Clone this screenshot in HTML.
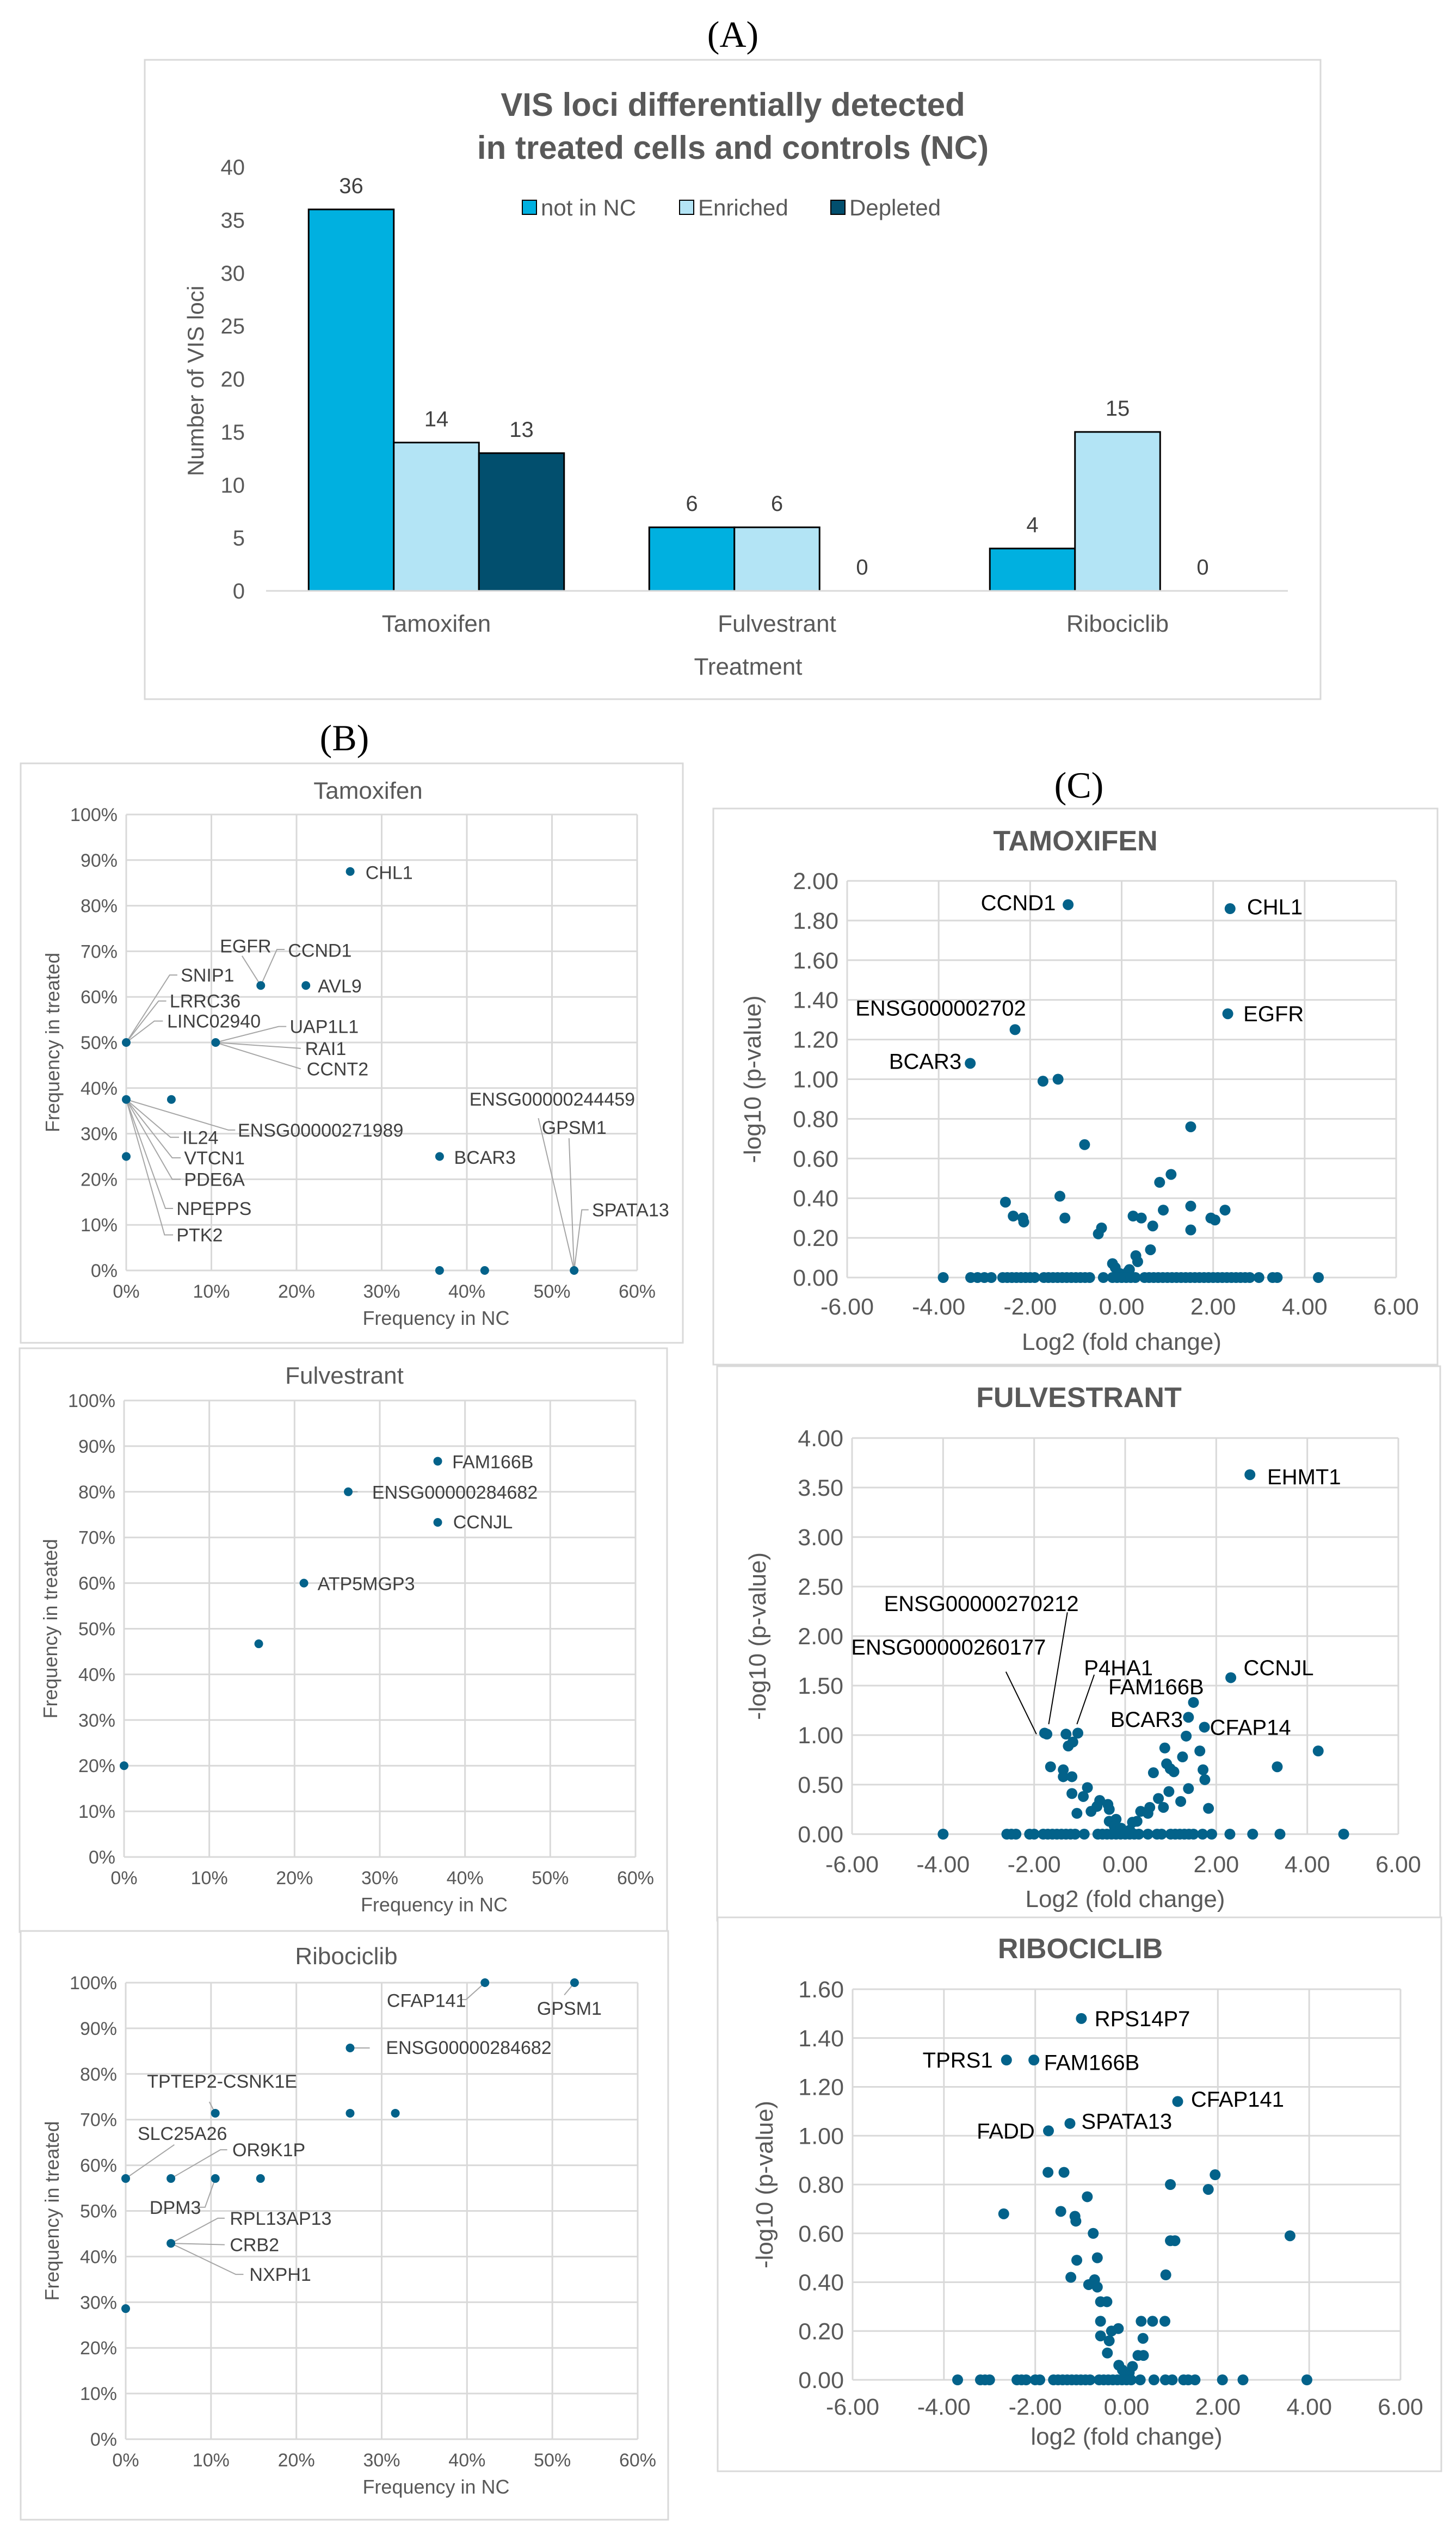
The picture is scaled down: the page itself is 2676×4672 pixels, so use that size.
<!DOCTYPE html>
<html><head><meta charset="utf-8"><title>VIS loci figure</title>
<style>html,body{margin:0;padding:0;background:#fff;width:2676px;height:4672px;overflow:hidden}svg{display:block}</style>
</head><body>
<svg id="fig" xmlns="http://www.w3.org/2000/svg" width="2676" height="4672" viewBox="0 0 2676 4672" font-family="Liberation Sans, Arial, sans-serif"></svg>
<script>
// ===== Panel A data =====
const barCategories = ['Tamoxifen', 'Fulvestrant', 'Ribociclib'];
const barSeriesNames = ['not in NC', 'Enriched', 'Depleted'];
const notInNC = [36, 6, 4];
const enriched = [14, 6, 15];
const depleted = [13, 0, 0];
const barYTicks = [0, 5, 10, 15, 20, 25, 30, 35, 40];

// ===== Panel B data (percent) =====
const tamB_x = [26.3, 15.8, 21.1, 0, 10.5, 0, 5.3, 0, 36.8, 36.8, 42.1, 52.6];
const tamB_y = [87.5, 62.5, 62.5, 50, 50, 37.5, 37.5, 25, 25, 0, 0, 0];
const fulB_x = [36.8, 26.3, 36.8, 21.1, 15.8, 0];
const fulB_y = [86.7, 80, 73.3, 60, 46.7, 20];
const ribB_x = [42.1, 52.6, 26.3, 10.5, 26.3, 31.6, 0, 5.3, 10.5, 15.8, 5.3, 0];
const ribB_y = [100, 100, 85.7, 71.4, 71.4, 71.4, 57.1, 57.1, 57.1, 57.1, 42.9, 28.6];
const pctXTicks = [0, 10, 20, 30, 40, 50, 60];
const pctYTicks = [0, 10, 20, 30, 40, 50, 60, 70, 80, 90, 100];

// ===== Panel C data =====
const tamC_x = [-1.17, 2.37, 2.32, -2.33, -3.31, -1.72, -1.39, 1.51, -0.81, 1.08, 0.83, -2.54, -1.35, 0.91, 1.51, 2.26, -2.37, -2.16, -2.14, -1.24, 0.25, 0.43, 0.68, 1.95, 2.04, 1.51, -0.44, -0.51, 0.63, 0.31, 0.35, -0.20, -0.14, 0.17, 0.14, -0.04,
 -3.9, -3.3, -3.15, -3.0, -2.85, -2.6, -2.5, -2.4, -2.3, -2.2, -2.1, -2.0, -1.9, -1.7, -1.6, -1.5, -1.4, -1.3, -1.2, -1.1, -1.0, -0.9, -0.8, -0.7, -0.4, -0.2, -0.1, 0, 0.1, 0.2, 0.3, 0.5, 0.6, 0.7, 0.8, 0.9, 1.0, 1.1, 1.2, 1.3, 1.4, 1.5, 1.6, 1.7, 1.8, 1.9, 2.0, 2.1, 2.2, 2.3, 2.4, 2.5, 2.6, 2.7, 2.8, 3.0, 3.3, 3.4, 4.3];
const tamC_y = [1.88, 1.86, 1.33, 1.25, 1.08, 0.99, 1.00, 0.76, 0.67, 0.52, 0.48, 0.38, 0.41, 0.34, 0.36, 0.34, 0.31, 0.30, 0.28, 0.30, 0.31, 0.30, 0.26, 0.30, 0.29, 0.24, 0.25, 0.22, 0.14, 0.11, 0.08, 0.07, 0.05, 0.04, 0.03, 0.02,
 0,0,0,0,0,0,0,0,0,0,0,0,0,0,0,0,0,0,0,0,0,0,0,0,0,0,0,0,0,0,0,0,0,0,0,0,0,0,0,0,0,0,0,0,0,0,0,0,0,0,0,0,0,0,0,0,0,0,0];
const fulC_x = [2.74, 2.32, 1.50, 1.39, 1.74, 1.34, -1.77, -1.72, -1.30, -1.04, -1.25, -1.15, -1.64, -1.36, -1.36, -1.17, -1.17, -0.83, -0.92, -1.06, -0.75, -0.56, -0.62, -0.38, -0.35, -0.35, -0.20, -0.24, -0.09, 0.10, 0.16, 0.26, 0.34, 0.50, 0.54, 0.84, 0.73, 0.96, 1.22, 1.39, 0.62, 0.91, 0.99, 1.07, 0.87, 1.26, 1.64, 1.71, 1.75, 1.83, 3.34, 4.24,
 -4.0, -2.6, -2.5, -2.4, -2.1, -2.0, -1.8, -1.7, -1.6, -1.5, -1.4, -1.3, -1.2, -1.1, -0.9, -0.6, -0.5, -0.4, -0.3, -0.2, -0.1, 0, 0.1, 0.2, 0.3, 0.5, 0.7, 0.8, 1.0, 1.1, 1.2, 1.3, 1.4, 1.5, 1.7, 1.9, 2.3, 2.8, 3.4, 4.8];
const fulC_y = [3.63, 1.58, 1.33, 1.18, 1.08, 0.99, 1.02, 1.01, 1.01, 1.02, 0.89, 0.93, 0.68, 0.65, 0.58, 0.58, 0.41, 0.47, 0.38, 0.21, 0.23, 0.34, 0.28, 0.30, 0.25, 0.13, 0.15, 0.08, 0.06, 0.04, 0.12, 0.13, 0.23, 0.21, 0.27, 0.27, 0.36, 0.43, 0.33, 0.46, 0.62, 0.71, 0.66, 0.63, 0.87, 0.78, 0.84, 0.65, 0.55, 0.26, 0.68, 0.84,
 0,0,0,0,0,0,0,0,0,0,0,0,0,0,0,0,0,0,0,0,0,0,0,0,0,0,0,0,0,0,0,0,0,0,0,0,0,0,0,0];
const ribC_x = [-0.99, -2.63, -2.03, 1.12, -1.24, -1.71, -1.72, -1.37, 1.94, 0.96, 1.79, -0.86, -2.69, -1.44, -1.13, -1.11, -0.73, 0.96, 1.06, 3.58, -1.09, -0.64, -1.22, -0.70, -0.83, -0.64, 0.86, -0.57, -0.43, -0.57, -0.18, -0.33, 0.32, 0.57, 0.84, -0.57, 0.36, -0.38, -0.42, 0.25, 0.37, -0.17, 0.13, -0.09, 0.06,
 -3.7, -3.2, -3.1, -3.0, -2.4, -2.3, -2.2, -2.0, -1.9, -1.6, -1.5, -1.4, -1.3, -1.2, -1.1, -1.0, -0.9, -0.8, -0.6, -0.5, -0.4, -0.3, -0.2, -0.1, 0, 0.1, 0.3, 0.6, 0.85, 1.0, 1.25, 1.35, 1.5, 2.1, 2.55, 3.95];
const ribC_y = [1.48, 1.31, 1.31, 1.14, 1.05, 1.02, 0.85, 0.85, 0.84, 0.80, 0.78, 0.75, 0.68, 0.69, 0.67, 0.65, 0.60, 0.57, 0.57, 0.59, 0.49, 0.50, 0.42, 0.41, 0.39, 0.38, 0.43, 0.32, 0.32, 0.24, 0.21, 0.20, 0.24, 0.24, 0.24, 0.18, 0.17, 0.16, 0.11, 0.10, 0.10, 0.06, 0.055, 0.04, 0.03,
 0,0,0,0,0,0,0,0,0,0,0,0,0,0,0,0,0,0,0,0,0,0,0,0,0,0,0,0,0,0,0,0,0,0,0,0];
const volXTicks = [-6, -4, -2, 0, 2, 4, 6];
const tamCYTicks = [0, 0.2, 0.4, 0.6, 0.8, 1.0, 1.2, 1.4, 1.6, 1.8, 2.0];
const fulCYTicks = [0, 0.5, 1.0, 1.5, 2.0, 2.5, 3.0, 3.5, 4.0];
const ribCYTicks = [0, 0.2, 0.4, 0.6, 0.8, 1.0, 1.2, 1.4, 1.6];

const NS = 'http://www.w3.org/2000/svg';
const svg = document.getElementById('fig');
function add(parent, tag, name, attrs, text) {
  const el = document.createElementNS(NS, tag);
  for (const k in attrs) el.setAttribute(k, attrs[k]);
  
  
  if (text !== undefined) el.textContent = text;
  parent.appendChild(el);
  return el;
}
const GRID = '#d9d9d9', TXT = '#595959', DOT = '#03628a';

// Panel letters
add(svg, 'text', 'panel-label-a', {x: 1347, y: 86, 'text-anchor': 'middle', 'font-family': 'Liberation Serif, serif', 'font-size': 68, fill: '#000'}, '(A)');
add(svg, 'text', 'panel-label-b', {x: 633, y: 1379, 'text-anchor': 'middle', 'font-family': 'Liberation Serif, serif', 'font-size': 68, fill: '#000'}, '(B)');
add(svg, 'text', 'panel-label-c', {x: 1983, y: 1466, 'text-anchor': 'middle', 'font-family': 'Liberation Serif, serif', 'font-size': 68, fill: '#000'}, '(C)');

// ===== Panel A =====
(function () {
  const g = add(svg, 'g', 'bar-chart', {});
  add(g, 'rect', 'bar-chart-frame', {x: 266, y: 110, width: 2161, height: 1175, fill: '#fff', stroke: GRID, 'stroke-width': 3});
  const L = 489, R = 2367, B = 1086, T = 307, yMax = 40;
  const ys = v => B - v / yMax * (B - T);
  const cw = (R - L) / barCategories.length, bw = cw / 4;
  add(g, 'text', 'chart-title-line-1', {x: 1347, y: 213, 'text-anchor': 'middle', 'font-size': 60, 'font-weight': 'bold', fill: TXT}, 'VIS loci differentially detected');
  add(g, 'text', 'chart-title-line-2', {x: 1347, y: 292, 'text-anchor': 'middle', 'font-size': 60, 'font-weight': 'bold', fill: TXT}, 'in treated cells and controls (NC)');
  barYTicks.forEach(t => {
    add(g, 'text', 'y-tick-label', {x: 450, y: ys(t) + 14, 'text-anchor': 'end', 'font-size': 40, fill: TXT}, String(t));
  });
  add(g, 'text', 'y-axis-title', {x: 0, y: 0, transform: 'translate(374,700) rotate(-90)', 'text-anchor': 'middle', 'font-size': 42, fill: TXT}, 'Number of VIS loci');
  const series = [notInNC, enriched, depleted];
  const colors = ['#00b0e0', '#b3e4f5', '#024f6e'];
  series.forEach((vals, s) => {
    vals.forEach((v, i) => {
      const x = L + i * cw + cw / 8 + s * bw;
      if (v > 0) {
        add(g, 'rect', 'bar-' + barSeriesNames[s].replace(/ /g, '-').toLowerCase() + '-' + barCategories[i].toLowerCase(), {x: x, y: ys(v), width: bw, height: B - ys(v), fill: colors[s], stroke: '#000', 'stroke-width': 3});
      }
      add(g, 'text', 'bar-value-label', {x: x + bw / 2, y: ys(v) - 30, 'text-anchor': 'middle', 'font-size': 40, fill: '#404040'}, String(v));
    });
  });
  add(g, 'line', 'x-axis-line', {x1: L, y1: B, x2: R, y2: B, stroke: GRID, 'stroke-width': 3});
  barCategories.forEach((c, i) => {
    add(g, 'text', 'x-category-label', {x: L + (i + 0.5) * cw, y: 1161, 'text-anchor': 'middle', 'font-size': 44, fill: TXT}, c);
  });
  add(g, 'text', 'x-axis-title', {x: 1375, y: 1240, 'text-anchor': 'middle', 'font-size': 44, fill: TXT}, 'Treatment');
  const lx = [960, 1249, 1527];
  barSeriesNames.forEach((n, s) => {
    const lg = add(g, 'g', 'legend-entry', {});
    add(lg, 'rect', 'legend-swatch', {x: lx[s], y: 368, width: 26, height: 26, fill: colors[s], stroke: '#000', 'stroke-width': 2});
    add(lg, 'text', 'legend-label', {x: lx[s] + 34, y: 396, 'font-size': 42, fill: TXT}, n);
  });
})();

// ===== Panel B scatters =====
function scatterB(cfg, xs, ys, labels) {
  const g = add(svg, 'g', cfg.name, {});
  add(g, 'rect', cfg.name + '-frame', {x: cfg.box[0], y: cfg.box[1], width: cfg.box[2], height: cfg.box[3], fill: '#fff', stroke: GRID, 'stroke-width': 3});
  const [L, R, T, B] = cfg.plot;
  const sx = v => L + v / 60 * (R - L);
  const sy = v => B - v / 100 * (B - T);
  add(g, 'text', 'chart-title', {x: (L + R) / 2 - 65 + cfg.titleDx, y: cfg.titleY + 15, 'text-anchor': 'middle', 'font-size': 44, fill: TXT}, cfg.title);
  pctYTicks.forEach(t => {
    add(g, 'line', 'y-gridline', {x1: L, y1: sy(t), x2: R, y2: sy(t), stroke: GRID, 'stroke-width': 3});
    add(g, 'text', 'y-tick-label', {x: L - 16, y: sy(t) + 12, 'text-anchor': 'end', 'font-size': 34, fill: TXT}, t + '%');
  });
  pctXTicks.forEach(t => {
    add(g, 'line', 'x-gridline', {x1: sx(t), y1: T, x2: sx(t), y2: B, stroke: GRID, 'stroke-width': 3});
    add(g, 'text', 'x-tick-label', {x: sx(t), y: B + 50, 'text-anchor': 'middle', 'font-size': 34, fill: TXT}, t + '%');
  });
  add(g, 'text', 'x-axis-title', {x: (L + R) / 2 + 100, y: B + 100, 'text-anchor': 'middle', 'font-size': 36, fill: TXT}, 'Frequency in NC');
  add(g, 'text', 'y-axis-title', {x: 0, y: 0, transform: 'translate(' + (L - 123) + ',' + ((T + B) / 2) + ') rotate(-90)', 'text-anchor': 'middle', 'font-size': 36, fill: TXT}, 'Frequency in treated');
  labels.forEach(lb => {
    if (lb.lead) {
      const pts = lb.lead.map(p => sx(p[0]) + ',' + sy(p[1])).join(' ');
      add(g, 'polyline', 'label-leader-line', {points: pts, fill: 'none', stroke: '#a6a6a6', 'stroke-width': 2});
    }
    add(g, 'text', 'point-label', {x: sx(lb.x), y: sy(lb.y) + 12, 'font-size': 34, fill: '#404040'}, lb.t);
  });
  xs.forEach((v, i) => {
    add(g, 'circle', 'data-point', {cx: sx(v), cy: sy(ys[i]), r: 8, fill: DOT});
  });
}
scatterB({name: 'tamoxifen-frequency-scatter', title: 'Tamoxifen', box: [38, 1403, 1217, 1065], plot: [232, 1171, 1497, 2335], titleY: 1453, titleDx: 40}, tamB_x, tamB_y, [
  {t: 'CHL1', x: 28.1, y: 87.3},
  {t: 'EGFR', x: 11.0, y: 71.2, lead: [[15.8, 62.5], [13.6, 69.0]]},
  {t: 'CCND1', x: 19.0, y: 70.2, lead: [[15.8, 62.5], [17.7, 70.4], [18.6, 70.4]]},
  {t: 'AVL9', x: 22.5, y: 62.4},
  {t: 'SNIP1', x: 6.4, y: 64.8, lead: [[0, 50], [5.1, 64.8], [6.0, 64.8]]},
  {t: 'LRRC36', x: 5.1, y: 59.1, lead: [[0, 50], [3.8, 59.1], [4.7, 59.1]]},
  {t: 'LINC02940', x: 4.8, y: 54.7, lead: [[0, 50], [3.3, 54.7], [4.3, 54.7]]},
  {t: 'UAP1L1', x: 19.2, y: 53.5, lead: [[10.5, 50], [17.9, 53.5], [18.8, 53.5]]},
  {t: 'RAI1', x: 21.0, y: 48.7, lead: [[10.5, 50], [20.5, 48.7]]},
  {t: 'CCNT2', x: 21.2, y: 44.2, lead: [[10.5, 50], [20.5, 44.2]]},
  {t: 'ENSG00000271989', x: 13.1, y: 30.8, lead: [[0, 37.5], [12.0, 30.8], [12.8, 30.8]]},
  {t: 'IL24', x: 6.6, y: 29.2, lead: [[0, 37.5], [5.2, 29.2], [6.2, 29.2]]},
  {t: 'VTCN1', x: 6.8, y: 24.7, lead: [[0, 37.5], [5.4, 24.7], [6.4, 24.7]]},
  {t: 'PDE6A', x: 6.8, y: 20.0, lead: [[0, 37.5], [5.4, 20.0], [6.4, 20.0]]},
  {t: 'NPEPPS', x: 5.9, y: 13.6, lead: [[0, 37.5], [4.6, 13.6], [5.5, 13.6]]},
  {t: 'PTK2', x: 5.9, y: 7.8, lead: [[0, 37.5], [4.5, 7.8], [5.5, 7.8]]},
  {t: 'BCAR3', x: 38.5, y: 24.8},
  {t: 'ENSG00000244459', x: 40.3, y: 37.6, lead: [[48.4, 33.4], [52.6, 0]]},
  {t: 'GPSM1', x: 48.8, y: 31.4, lead: [[52.0, 29.0], [52.6, 0]]},
  {t: 'SPATA13', x: 54.7, y: 13.3, lead: [[52.6, 0], [53.5, 13.3], [54.3, 13.3]]}
]);
scatterB({name: 'fulvestrant-frequency-scatter', title: 'Fulvestrant', box: [36, 2478, 1190, 1073], plot: [228, 1168, 2574, 3413], titleY: 2528, titleDx: 0}, fulB_x, fulB_y, [
  {t: 'FAM166B', x: 38.5, y: 86.6},
  {t: 'ENSG00000284682', x: 29.1, y: 79.9, lead: [[26.3, 80], [27.4, 80]]},
  {t: 'CCNJL', x: 38.6, y: 73.4},
  {t: 'ATP5MGP3', x: 22.7, y: 59.9}
]);
scatterB({name: 'ribociclib-frequency-scatter', title: 'Ribociclib', box: [38, 3549, 1190, 1082], plot: [231, 1172, 3644, 4483], titleY: 3595, titleDx: 0}, ribB_x, ribB_y, [
  {t: 'CFAP141', x: 30.6, y: 96.1, lead: [[42.1, 100], [39.9, 96.3], [39.1, 96.3]]},
  {t: 'GPSM1', x: 48.2, y: 94.4, lead: [[52.6, 100], [51.4, 97.3]]},
  {t: 'ENSG00000284682', x: 30.5, y: 85.8, lead: [[26.3, 85.7], [28.6, 85.7]]},
  {t: 'TPTEP2-CSNK1E', x: 2.5, y: 78.4, lead: [[10.5, 71.4], [9.8, 73.9]]},
  {t: 'SLC25A26', x: 1.4, y: 67.0, lead: [[0, 57.1], [5.7, 64.5]]},
  {t: 'OR9K1P', x: 12.5, y: 63.4, lead: [[5.3, 57.1], [11.1, 63.4], [11.9, 63.4]]},
  {t: 'DPM3', x: 2.8, y: 50.8, lead: [[10.5, 57.1], [9.3, 50.8], [8.5, 50.8]]},
  {t: 'RPL13AP13', x: 12.2, y: 48.4, lead: [[5.3, 42.9], [10.8, 48.4], [11.6, 48.4]]},
  {t: 'CRB2', x: 12.2, y: 42.6, lead: [[5.3, 42.9], [11.6, 42.6]]},
  {t: 'NXPH1', x: 14.5, y: 36.1, lead: [[5.3, 42.9], [12.9, 36.1], [13.8, 36.1]]}
]);

// ===== Panel C volcanos =====
function volcano(cfg, xs, ys, yTicks, labels) {
  const g = add(svg, 'g', cfg.name, {});
  add(g, 'rect', cfg.name + '-frame', {x: cfg.box[0], y: cfg.box[1], width: cfg.box[2], height: cfg.box[3], fill: '#fff', stroke: GRID, 'stroke-width': 3});
  const [L, R, T, B] = cfg.plot;
  const yMax = yTicks[yTicks.length - 1];
  const sx = v => L + (v + 6) / 12 * (R - L);
  const sy = v => B - v / yMax * (B - T);
  add(g, 'text', 'chart-title', {x: (L + R) / 2 - 85, y: cfg.titleY + 18, 'text-anchor': 'middle', 'font-size': 52, 'font-weight': 'bold', fill: TXT}, cfg.title);
  yTicks.forEach(t => {
    add(g, 'line', 'y-gridline', {x1: L, y1: sy(t), x2: R, y2: sy(t), stroke: GRID, 'stroke-width': 3});
    add(g, 'text', 'y-tick-label', {x: L - 16, y: sy(t) + 15, 'text-anchor': 'end', 'font-size': 43, fill: TXT}, t.toFixed(2));
  });
  volXTicks.forEach(t => {
    add(g, 'line', 'x-gridline', {x1: sx(t), y1: T, x2: sx(t), y2: B, stroke: GRID, 'stroke-width': 3});
    add(g, 'text', 'x-tick-label', {x: sx(t), y: cfg.xTickY + 15, 'text-anchor': 'middle', 'font-size': 43, fill: TXT}, t.toFixed(2));
  });
  add(g, 'text', 'x-axis-title', {x: (L + R) / 2, y: cfg.xTitleY + 15, 'text-anchor': 'middle', 'font-size': 44, fill: TXT}, cfg.xTitle);
  add(g, 'text', 'y-axis-title', {x: 0, y: 0, transform: 'translate(' + (cfg.yTitleX + 14) + ',' + ((T + B) / 2) + ') rotate(-90)', 'text-anchor': 'middle', 'font-size': 44, fill: TXT}, '-log10 (p-value)');
  labels.forEach(lb => {
    if (lb.lead) {
      add(g, 'line', 'label-leader-line', {x1: sx(lb.lead[0]), y1: sy(lb.lead[1]), x2: sx(lb.lead[2]), y2: sy(lb.lead[3]), stroke: '#000', 'stroke-width': 2});
    }
    add(g, 'text', 'point-label', {x: sx(lb.x), y: sy(lb.y) + 14, 'text-anchor': lb.end ? 'end' : 'start', 'font-size': 40, fill: '#000'}, lb.t);
  });
  xs.forEach((v, i) => {
    add(g, 'circle', 'data-point', {cx: sx(v), cy: sy(ys[i]), r: 10, fill: DOT});
  });
}
volcano({name: 'tamoxifen-volcano', title: 'TAMOXIFEN', box: [1311, 1486, 1331, 1022], plot: [1557, 2566, 1619, 2348], titleY: 1545, xTickY: 2401, xTitleY: 2466, yTitleX: 1384, xTitle: 'Log2 (fold change)'}, tamC_x, tamC_y, tamCYTicks, [
  {t: 'CCND1', x: -1.44, y: 1.89, end: true},
  {t: 'CHL1', x: 2.74, y: 1.87},
  {t: 'EGFR', x: 2.66, y: 1.33},
  {t: 'ENSG000002702', x: -2.09, y: 1.36, end: true},
  {t: 'BCAR3', x: -3.50, y: 1.09, end: true}
]);
volcano({name: 'fulvestrant-volcano', title: 'FULVESTRANT', box: [1318, 2511, 1329, 1019], plot: [1566, 2570, 2643, 3371], titleY: 2568, xTickY: 3426, xTitleY: 3490, yTitleX: 1393, xTitle: 'Log2 (fold change)'}, fulC_x, fulC_y, fulCYTicks, [
  {t: 'EHMT1', x: 3.12, y: 3.61},
  {t: 'CCNJL', x: 2.60, y: 1.68},
  {t: 'FAM166B', x: -0.37, y: 1.49},
  {t: 'P4HA1', x: -0.905, y: 1.68, lead: [-0.68, 1.61, -1.06, 1.11]},
  {t: 'BCAR3', x: -0.325, y: 1.16},
  {t: 'CFAP14', x: 1.86, y: 1.08},
  {t: 'ENSG00000270212', x: -5.30, y: 2.33, lead: [-1.27, 2.24, -1.68, 1.11]},
  {t: 'ENSG00000260177', x: -6.02, y: 1.89, lead: [-2.62, 1.64, -1.95, 1.01]}
]);
volcano({name: 'ribociclib-volcano', title: 'RIBOCICLIB', box: [1319, 3524, 1330, 1018], plot: [1567, 2574, 3656, 4374], titleY: 3581, xTickY: 4423, xTitleY: 4478, yTitleX: 1406, xTitle: 'log2 (fold change)'}, ribC_x, ribC_y, ribCYTicks, [
  {t: 'RPS14P7', x: -0.70, y: 1.48},
  {t: 'TPRS1', x: -2.93, y: 1.31, end: true},
  {t: 'FAM166B', x: -1.81, y: 1.30},
  {t: 'CFAP141', x: 1.41, y: 1.15},
  {t: 'SPATA13', x: -0.99, y: 1.06},
  {t: 'FADD', x: -2.01, y: 1.02, end: true}
]);
</script>
</body></html>
